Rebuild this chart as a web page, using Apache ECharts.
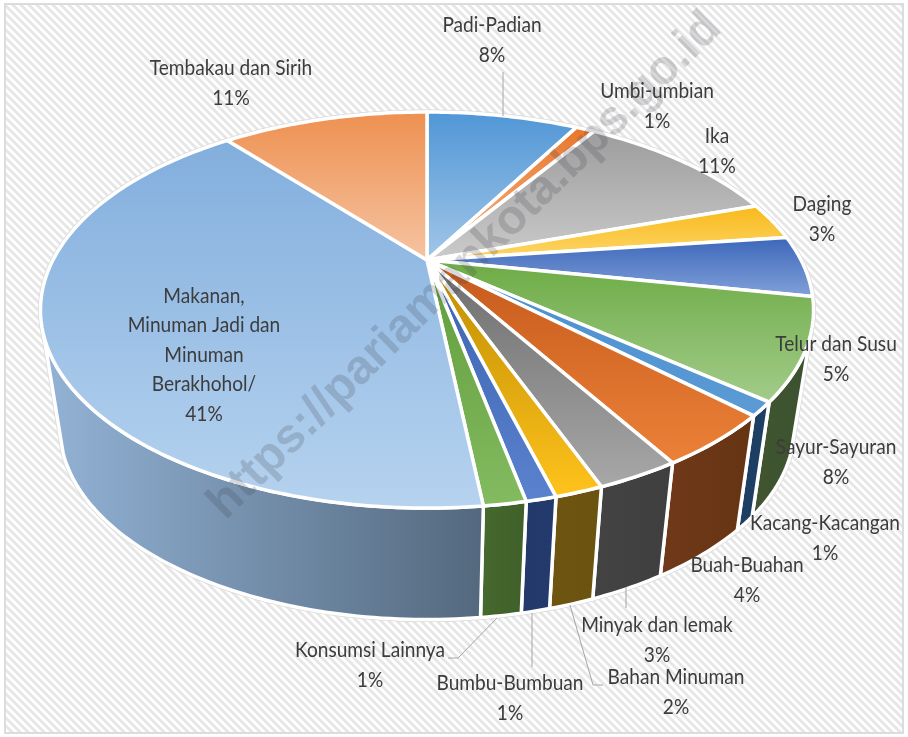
<!DOCTYPE html>
<html>
<head>
<meta charset="utf-8">
<title>Pengeluaran</title>
<style>
    html, body { margin: 0; padding: 0; background: #fff; }
    #chart { width: 908px; height: 737px; }
</style>
<script src="https://cdn.jsdelivr.net/npm/echarts@6/dist/echarts.min.js"></script>
</head>
<body>
<div id="chart"></div>
<script>
// data, clockwise from 12 o'clock
const categories = ['Padi-Padian', 'Umbi-umbian', 'Ika', 'Daging', 'Telur dan Susu', 'Sayur-Sayuran',
    'Kacang-Kacangan', 'Buah-Buahan', 'Minyak dan lemak', 'Bahan Minuman', 'Bumbu-Bumbuan',
    'Konsumsi Lainnya', 'Makanan,\nMinuman Jadi dan\nMinuman\nBerakhohol/', 'Tembakau dan Sirih'];
const values = [8.1, 1.0, 10.8, 3.1, 5.0, 8.1, 1.1, 4.2, 2.8, 1.6, 1.0, 1.4, 40.8, 11.0];

// [gelap, terang] for the top face, from far edge to near edge
const topColors = [
    ['#4f96d6', '#a3c6e8'], ['#e9762a', '#f5b78c'], ['#9c9c9c', '#cbcbcb'], ['#f8b918', '#fdd76c'],
    ['#3a65b9', '#83a2da'], ['#6cab44', '#a3cc8b'], ['#4a8fcf', '#5b9bd5'], ['#c4591b', '#ec8238'],
    ['#6c6c6c', '#a8a8a8'], ['#bd8b02', '#ffc31c'], ['#3a62ad', '#5b82cf'], ['#5f9c3a', '#84bb61'],
    ['#82aedd', '#b6d3ef'], ['#ee9050', '#f5c4a2']
];
const wallColors = [
    ['#3f5f92', '#3f5f92'], ['#8a4a1c', '#8a4a1c'], ['#555555', '#555555'], ['#8a6a10', '#8a6a10'],
    ['#2c4a86', '#2c4a86'], ['#40552f', '#3c5230'], ['#1d3f63', '#1d3f63'], ['#70391a', '#663413'],
    ['#434343', '#3f3f3f'], ['#6f5510', '#6a5210'], ['#24396b', '#233a6c'], ['#46692f', '#3f6029'],
    ['#93b3d6', '#53687d'], ['#9e5a2c', '#9e5a2c']
];

// label centres and leader lines
const labelCenters = [[492, 40], [657, 106], [717, 151], [822, 219], [836, 359], [836, 462], [825, 538],
    [747, 580], [657, 640], [676, 692], [510, 698], [370, 665], [204, 355], [231, 83]];
const leaderLines = [
    [[503, 72], [503, 116]],
    [[448, 658], [458, 658], [497, 618]],
    [[532, 613], [532, 667]],
    [[570, 605], [593, 685], [603, 685]],
    [[626, 587], [626, 608]]
];

// perspective ellipse of the disc
const apexX = 427, apexY = 260;
const rimA = 374, rimB = 185.4, tilt = 0.2525;
const depth = 119, floorScaleX = 0.95, floorScaleY = 0.97;
const wallFrom = 112, wallTo = 248;

function rimPoint(deg, isFloor) {
    const t = deg * Math.PI / 180;
    const X = Math.sin(t), Y = -Math.cos(t);
    const w = 1 - tilt * Y;
    if (isFloor) {
        return [apexX + floorScaleX * rimA * X / w, apexY + depth + floorScaleY * rimB * Y / w];
    }
    return [apexX + rimA * X / w, apexY + rimB * Y / w];
}

function arcPoints(from, to, isFloor) {
    const pts = [];
    const n = Math.max(2, Math.ceil(Math.abs(to - from)));
    for (let i = 0; i <= n; i++) {
        pts.push(rimPoint(from + (to - from) * i / n, isFloor));
    }
    return pts;
}

function gradient(stops, horizontal) {
    return {
        type: 'linear', x: 0, y: 0, x2: horizontal ? 1 : 0, y2: horizontal ? 0 : 1,
        colorStops: [{ offset: 0, color: stops[0] }, { offset: 1, color: stops[1] }]
    };
}

const total = values.reduce((a, b) => a + b, 0);
let running = 0;
const sliceRows = values.map((v, i) => {
    const start = running / total * 360;
    running += v;
    return [start, running / total * 360, i];
});

function renderTop(params, api) {
    const i = api.value(2);
    const pts = [[apexX, apexY]].concat(arcPoints(api.value(0), api.value(1), false));
    return {
        type: 'polygon',
        shape: { points: pts },
        style: { fill: gradient(topColors[i]), stroke: '#fff', lineWidth: 3.5, lineJoin: 'round' }
    };
}

function renderWall(params, api) {
    const i = api.value(2);
    const from = Math.max(api.value(0), wallFrom), to = Math.min(api.value(1), wallTo);
    if (from >= to) return null;
    const pts = arcPoints(from, to, false).concat(arcPoints(to, from, true));
    return {
        type: 'polygon',
        shape: { points: pts },
        style: { fill: gradient(wallColors[i], true), stroke: '#fff', lineWidth: 3.5, lineJoin: 'round' }
    };
}

function renderOutline() {
    const style = { fill: 'none', stroke: '#dadada', lineWidth: 5, lineJoin: 'round' };
    return {
        type: 'group',
        children: [
            { type: 'polygon', shape: { points: arcPoints(0, 360, false) }, style: style },
            { type: 'polygon', shape: { points: arcPoints(wallFrom, wallTo, false).concat(arcPoints(wallTo, wallFrom, true)) }, style: style }
        ]
    };
}

function renderLabel(params, api) {
    const i = api.value(2);
    return {
        type: 'text',
        x: labelCenters[i][0],
        y: labelCenters[i][1],
        scaleX: 0.91, // Lato runs wider than the reference face
        style: {
            text: categories[i] + '\n' + Math.round(values[i]) + '%',
            fill: '#3c3c3c',
            font: '21px Lato, "Noto Sans", sans-serif',
            lineHeight: 29.5,
            align: 'center',
            verticalAlign: 'middle'
        }
    };
}

function hatchTile() {
    const size = 8;
    const c = document.createElement('canvas');
    c.width = size;
    c.height = size;
    const g = c.getContext('2d');
    g.fillStyle = '#fff';
    g.fillRect(0, 0, size, size);
    g.strokeStyle = '#e6e6e6';
    g.lineWidth = 2.8;
    for (let o = -size; o <= size; o += size) {
        g.beginPath();
        g.moveTo(o - 1, -1);
        g.lineTo(o + size + 1, size + 1);
        g.stroke();
    }
    return c;
}

const myChart = echarts.init(document.getElementById('chart'), null, { renderer: 'canvas' });

const graphicItems = [
    {
        type: 'rect', z: 0, silent: true,
        shape: { x: 5, y: 4, width: 898, height: 729 },
        style: { fill: { image: hatchTile(), repeat: 'repeat' }, stroke: '#dcdcdc', lineWidth: 2 }
    },
    {
        type: 'text', z: 100, silent: true,
        x: 465, y: 266, rotation: 0.778,
        style: {
            text: 'https://pariamankota.bps.go.id',
            font: 'bold 48px "Liberation Sans", Arial, sans-serif',
            fill: 'rgba(60,60,70,0.2)',
            align: 'center',
            verticalAlign: 'middle'
        }
    }
];
leaderLines.forEach(points => {
    graphicItems.push({
        type: 'polyline', z: 60, silent: true,
        shape: { points: points },
        style: { fill: 'none', stroke: '#a6a6a6', lineWidth: 1 }
    });
});

myChart.setOption({
    animation: false,
    backgroundColor: '#fff',
    graphic: { elements: graphicItems },
    series: [
        { type: 'custom', coordinateSystem: 'none', silent: true, z: 2, data: [[0, 360, 0]], renderItem: renderOutline },
        { type: 'custom', coordinateSystem: 'none', silent: true, z: 3, data: sliceRows, renderItem: renderWall },
        { type: 'custom', coordinateSystem: 'none', silent: true, z: 4, data: sliceRows, renderItem: renderTop },
        { type: 'custom', coordinateSystem: 'none', silent: true, z: 50, data: sliceRows, renderItem: renderLabel }
    ]
});
</script>
</body>
</html>
